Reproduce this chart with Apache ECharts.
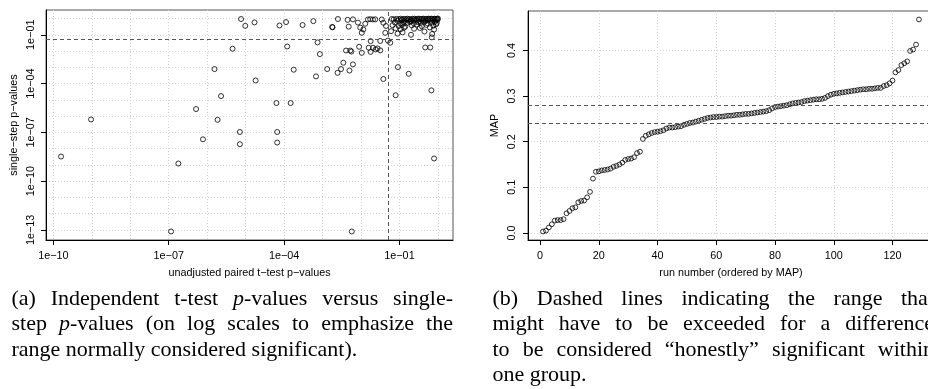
<!DOCTYPE html>
<html>
<head>
<meta charset="utf-8">
<script src="https://cdn.jsdelivr.net/npm/echarts@6/dist/echarts.min.js"></script>
<style>
  html, body { margin: 0; padding: 0; background: #fff; }
  #chart { width: 928px; height: 389px; }
</style>
</head>
<body>
<div id="chart"></div>
<script>
// ---------- (a) log10 p-values: unadjusted paired t-test (x) vs single-step (y) ----------
const pairedLogP = [
  -9.80, -9.02, -6.94, -6.75, -6.29, -6.11, -5.81, -5.73, -5.64, -5.34,
  -5.15, -5.15, -5.12, -5.01, -4.77, -4.74, -4.18, -4.18, -4.20, -4.12,
  -3.95, -3.92, -3.83, -3.75, -3.52, -3.24, -3.13, -3.07, -3.17, -2.88,
  -2.75, -2.74, -2.60, -2.61, -2.52, -2.46, -2.39, -2.35, -2.32, -2.30,
  -2.28, -2.25, -2.24, -2.21, -2.21, -2.08, -2.05, -2.02, -1.98, -1.98,
  -1.94, -1.89, -1.82, -1.76, -1.69, -1.63, -1.80, -1.69, -1.62, -1.57,
  -1.75, -1.50, -1.75, -1.50, -1.46, -1.42, -1.42, -1.35, -1.37, -1.30,
  -1.24, -1.10, -1.04, -0.76, -0.33, -0.20, -0.17, -0.16, -0.10,
  // dense cluster near p = 1
  -1.20, -1.15, -1.08, -1.02, -0.97, -0.93, -0.88, -0.83, -0.79, -0.74,
  -0.70, -0.66, -0.61, -0.57, -0.53, -0.49, -0.45, -0.41, -0.37, -0.33,
  -0.29, -0.25, -0.21, -0.17, -0.13, -0.09, -0.05, -0.02, 0.00,
  -1.05, -0.95, -0.86, -0.78, -0.70, -0.62, -0.55, -0.48, -0.40, -0.33,
  -0.26, -0.19, -0.12, -0.06, -0.01,
  -1.12, -0.98, -0.90, -0.80, -0.72, -0.63, -0.52, -0.44, -0.35, -0.27,
  -0.15, -0.08, -0.03,
  -1.18, -1.02, -0.93, -0.85, -0.68, -0.55, -0.42, -0.30, -0.12, -0.05,
  -1.10, -0.97, -0.88, -0.62, -0.47, -0.21, -0.10,
  -1.22, -1.05, -0.92, -0.70, -0.35, -0.15
];
const singleStepLogP = [
  -8.49, -6.21, -13.10, -8.92, -5.57, -7.43, -3.11, -6.23, -4.77, -1.86,
  -6.98, -7.73, -0.03, -0.45, -0.24, -3.81, -6.98, -7.63, -5.20, -0.43,
  -0.22, -1.72, -5.20, -3.15, -0.40, -0.16, -1.47, -2.19, -3.56, -3.11,
  -0.52, -0.54, -0.03, -3.34, -3.11, -2.72, -1.97, -0.08, -0.50, -3.20,
  -1.97, -2.03, -13.10, -2.82, -0.05, -0.25, -1.74, -0.56, -2.11, -0.88,
  -0.67, -0.32, -0.06, -0.04, -0.06, -0.05, -1.80, -1.80, -1.90, -1.84,
  -2.05, -1.96, -1.39, -1.38, -0.06, -0.26, -3.72, -0.46, -0.88, -1.36,
  -1.49, -4.72, -2.99, -3.40, -1.78, -1.78, -4.42, -1.16, -8.61,
  // dense cluster near p = 1
  -0.03, -0.05, -0.02, -0.04, -0.01, -0.05, -0.02, -0.04, -0.01, -0.03,
  -0.05, -0.02, -0.01, -0.04, -0.02, -0.01, -0.03, -0.02, -0.01, -0.03,
  -0.02, -0.01, -0.02, -0.01, -0.02, -0.01, -0.02, -0.01, 0.00,
  -0.14, -0.11, -0.16, -0.12, -0.15, -0.10, -0.13, -0.17, -0.11, -0.14,
  -0.10, -0.13, -0.09, -0.12, -0.08,
  -0.24, -0.30, -0.22, -0.27, -0.21, -0.29, -0.23, -0.26, -0.21, -0.30,
  -0.24, -0.20, -0.27,
  -0.41, -0.46, -0.38, -0.50, -0.42, -0.37, -0.47, -0.39, -0.44, -0.36,
  -0.60, -0.66, -0.56, -0.63, -0.58, -0.55, -0.68,
  -0.78, -0.93, -0.85, -1.00, -0.80, -0.95
];
const pTicksX = [-10, -7, -4, -1];
const pTicksY = [-13, -10, -7, -4, -1];
const pGridX = [-10, -9, -8, -7, -6, -5, -4, -3, -2, -1, 0];
const pGridY = [-13, -12, -11, -10, -9, -8, -7, -6, -5, -4, -3, -2, -1, 0];
const significanceLevel = 0.05;

// ---------- (b) MAP of each run, ordered ----------
const mapByRun = [
  0.003, 0.005, 0.012, 0.019, 0.027, 0.028, 0.028, 0.030, 0.043, 0.048,
  0.054, 0.056, 0.067, 0.070, 0.071, 0.078, 0.090, 0.119, 0.134, 0.135,
  0.137, 0.138, 0.139, 0.141, 0.145, 0.147, 0.150, 0.154, 0.160, 0.162,
  0.163, 0.166, 0.175, 0.178, 0.206, 0.213, 0.216, 0.219, 0.221, 0.222,
  0.223, 0.225, 0.229, 0.231, 0.231, 0.232, 0.233, 0.234, 0.237, 0.239,
  0.241, 0.242, 0.244, 0.246, 0.248, 0.250, 0.252, 0.253, 0.254, 0.254,
  0.255, 0.255, 0.256, 0.257, 0.257, 0.258, 0.259, 0.259, 0.260, 0.261,
  0.261, 0.262, 0.263, 0.264, 0.265, 0.266, 0.267, 0.269, 0.273, 0.276,
  0.277, 0.278, 0.279, 0.280, 0.282, 0.284, 0.285, 0.286, 0.287, 0.289,
  0.290, 0.291, 0.292, 0.293, 0.293, 0.294, 0.296, 0.300, 0.303, 0.305,
  0.306, 0.307, 0.308, 0.309, 0.310, 0.311, 0.312, 0.313, 0.314, 0.315,
  0.315, 0.316, 0.316, 0.317, 0.318, 0.318, 0.322, 0.324, 0.328, 0.334,
  0.352, 0.357, 0.368, 0.372, 0.376, 0.399, 0.402, 0.413, 0.468
];
const runTicks = [0, 20, 40, 60, 80, 100, 120];
const mapTicks = [0, 0.1, 0.2, 0.3, 0.4];
const honestRange = [0.240, 0.277];

// ---------- captions ----------
const captionA = [
  { words: ['(a)', 'Independent', 't-test', '{i|p}-values', 'versus', 'single-'], justify: true },
  { words: ['step', '{i|p}-values', '(on', 'log', 'scales', 'to', 'emphasize', 'the'], justify: true },
  { words: ['range', 'normally', 'considered', 'significant).'], justify: false }
];
const captionB = [
  { words: ['(b)', 'Dashed', 'lines', 'indicating', 'the', 'range', 'that'], justify: true },
  { words: ['might', 'have', 'to', 'be', 'exceeded', 'for', 'a', 'difference'], justify: true },
  { words: ['to', 'be', 'considered', '\u201Chonestly\u201D', 'significant', 'within'], justify: true },
  { words: ['one', 'group.'], justify: false }
];

// ---------- helpers ----------
const SANS = '"Liberation Sans", Arial, Helvetica, sans-serif';
const SERIF = '"Liberation Serif", "Times New Roman", serif';
const AXIS_SIZE = 10.8;
const CAPTION_SIZE = 22;
const MINUS = '\u2212';

// R-style axis extent: data range widened by 4% on both sides
function paddedRange(values) {
  const lo = Math.min(...values), hi = Math.max(...values);
  const d = (hi - lo) * 0.04;
  return [lo - d, hi + d];
}
function expLabel(v) {
  const e = Math.round(v);
  return '1e' + (e < 0 ? MINUS : '+') + String(Math.abs(e)).padStart(2, '0');
}

const xRangeA = paddedRange(pairedLogP);
const yRangeA = paddedRange(singleStepLogP);
const runNumbers = mapByRun.map((_, i) => i + 1);
const xRangeB = paddedRange(runNumbers);
const yRangeB = paddedRange(mapByRun);

const gridLine = { show: true, lineStyle: { color: '#d3d3d3', width: 1, type: [1, 2] } };
const axisLineBlack = { show: true, onZero: false, lineStyle: { color: '#000', width: 1 } };
const tickStyle = { show: true, length: 5, inside: false, lineStyle: { color: '#000', width: 1 } };
const labelStyle = { fontFamily: SANS, fontSize: AXIS_SIZE, color: '#000' };
const nameStyle = { fontFamily: SANS, fontSize: AXIS_SIZE, color: '#000' };
const dashed = { color: '#555', width: 1, type: [4, 3] };
const openCircle = { color: 'rgba(0,0,0,0)', borderColor: '#000', borderWidth: 1 };

// ---------- caption layout (justified columns) ----------
const measureCtx = document.createElement('canvas').getContext('2d');
function wordWidth(word) {
  let w = 0;
  word.split(/(\{i\|[^}]*\})/).forEach(seg => {
    if (!seg) return;
    const m = seg.match(/^\{i\|([^}]*)\}$/);
    measureCtx.font = (m ? 'italic ' : '') + CAPTION_SIZE + 'px ' + SERIF;
    w += measureCtx.measureText(m ? m[1] : seg).width;
  });
  return w;
}
function captionElements() {
  const cols = [
    { left: 11.5, right: 453, lines: captionA },
    { left: 492.5, right: 934, lines: captionB }
  ];
  const firstBaseline = 306.5, lineStep = 25.5, midOffset = 0.3375 * CAPTION_SIZE;
  const els = [];
  cols.forEach(col => {
    col.lines.forEach((line, k) => {
      const widths = line.words.map(wordWidth);
      const total = widths.reduce((a, b) => a + b, 0);
      const gap = line.justify
        ? (col.right - col.left - total) / (line.words.length - 1)
        : wordWidth(' ');
      let x = col.left;
      const y = firstBaseline + k * lineStep - midOffset;
      line.words.forEach((w, j) => {
        els.push({
          type: 'text', x: x, y: y, silent: true,
          style: {
            text: w, fill: '#000',
            fontFamily: SERIF, fontSize: CAPTION_SIZE,
            align: 'left', verticalAlign: 'middle',
            textAlign: 'left', textVerticalAlign: 'middle',
            rich: { i: { fontStyle: 'italic', fontFamily: SERIF, fontSize: CAPTION_SIZE, fill: '#000', color: '#000' } }
          }
        });
        x += widths[j] + gap;
      });
    });
  });
  return els;
}

// ---------- chart ----------
const chart = echarts.init(document.getElementById('chart'), null, { renderer: 'canvas' });
chart.setOption({
  animation: false,
  backgroundColor: '#fff',
  grid: [
    { left: 46, top: 10, width: 407, height: 230, show: true, borderColor: '#555', borderWidth: 1, backgroundColor: 'transparent', outerBoundsMode: 'none', containLabel: false },
    { left: 528, top: 11, width: 406, height: 229, show: true, borderColor: '#555', borderWidth: 1, backgroundColor: 'transparent', outerBoundsMode: 'none', containLabel: false }
  ],
  xAxis: [
    { // decade grid for (a)
      type: 'value', gridIndex: 0, position: 'top', min: xRangeA[0], max: xRangeA[1],
      axisLine: { show: false, onZero: false }, axisTick: { show: false, customValues: pGridX },
      axisLabel: { show: false, customValues: pGridX }, splitLine: gridLine
    },
    { // labelled axis for (a)
      type: 'value', gridIndex: 0, position: 'bottom', min: xRangeA[0], max: xRangeA[1],
      axisLine: axisLineBlack, axisTick: Object.assign({ customValues: pTicksX }, tickStyle),
      axisLabel: Object.assign({ customValues: pTicksX, margin: 11, formatter: expLabel }, labelStyle),
      splitLine: { show: false },
      name: 'unadjusted paired t' + MINUS + 'test p' + MINUS + 'values',
      nameLocation: 'middle', nameGap: 28, nameTextStyle: nameStyle
    },
    { // (b)
      type: 'value', gridIndex: 1, position: 'bottom', min: xRangeB[0], max: xRangeB[1],
      axisLine: axisLineBlack, axisTick: Object.assign({ customValues: runTicks }, tickStyle),
      axisLabel: Object.assign({ customValues: runTicks, margin: 11, formatter: v => String(v) }, labelStyle),
      splitLine: gridLine,
      name: 'run number (ordered by MAP)',
      nameLocation: 'middle', nameGap: 28, nameTextStyle: nameStyle
    }
  ],
  yAxis: [
    { // decade grid for (a)
      type: 'value', gridIndex: 0, position: 'right', min: yRangeA[0], max: yRangeA[1],
      axisLine: { show: false, onZero: false }, axisTick: { show: false, customValues: pGridY },
      axisLabel: { show: false, customValues: pGridY }, splitLine: gridLine
    },
    { // labelled axis for (a)
      type: 'value', gridIndex: 0, position: 'left', min: yRangeA[0], max: yRangeA[1],
      axisLine: axisLineBlack, axisTick: Object.assign({ customValues: pTicksY }, tickStyle),
      axisLabel: Object.assign({ customValues: pTicksY, rotate: 90, margin: 9, formatter: expLabel }, labelStyle),
      splitLine: { show: false },
      name: 'single' + MINUS + 'step p' + MINUS + 'values',
      nameLocation: 'middle', nameGap: 26.5, nameTextStyle: nameStyle
    },
    { // (b)
      type: 'value', gridIndex: 1, position: 'left', min: yRangeB[0], max: yRangeB[1],
      axisLine: axisLineBlack, axisTick: Object.assign({ customValues: mapTicks }, tickStyle),
      axisLabel: Object.assign({ customValues: mapTicks, rotate: 90, margin: 10.8, formatter: v => v.toFixed(1) }, labelStyle),
      splitLine: gridLine,
      name: 'MAP',
      nameLocation: 'middle', nameGap: 27, nameTextStyle: nameStyle
    }
  ],
  series: [
    {
      type: 'scatter', xAxisIndex: 1, yAxisIndex: 1,
      data: pairedLogP.map((x, i) => [x, singleStepLogP[i]]),
      symbol: 'circle', symbolSize: 5, itemStyle: openCircle,
      emphasis: { disabled: true }, silent: true,
      markLine: {
        silent: true, symbol: 'none', label: { show: false }, lineStyle: dashed,
        emphasis: { disabled: true },
        data: [{ xAxis: Math.log10(significanceLevel) }, { yAxis: Math.log10(significanceLevel) }]
      }
    },
    {
      type: 'scatter', xAxisIndex: 2, yAxisIndex: 2,
      data: mapByRun.map((v, i) => [runNumbers[i], v]),
      symbol: 'circle', symbolSize: 4.8, itemStyle: openCircle,
      emphasis: { disabled: true }, silent: true,
      markLine: {
        silent: true, symbol: 'none', label: { show: false }, lineStyle: dashed,
        emphasis: { disabled: true },
        data: honestRange.map(v => ({ yAxis: v }))
      }
    }
  ],
  graphic: { elements: captionElements() }
});
</script>
</body>
</html>
